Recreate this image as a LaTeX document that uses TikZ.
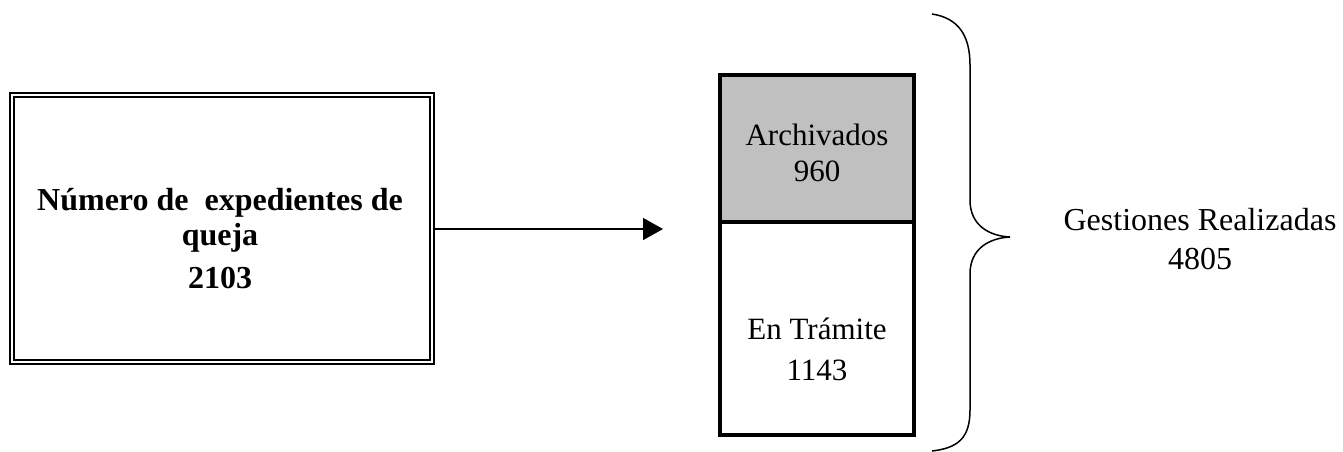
\documentclass[tikz,border=0pt]{standalone}
\usepackage{fontspec}
\setmainfont{Liberation Serif}
\usetikzlibrary{arrows.meta}
\definecolor{cellgray}{HTML}{C0C0C0}
\tikzset{
  mainbox/.style={draw=black, line width=1.4pt, double=white, double distance=2.3pt, minimum width=420pt, minimum height=267pt, inner sep=0pt},
  cell/.style={draw=black, line width=4.5pt, minimum width=194pt, inner sep=0pt},
  boldtext/.style={font=\fontsize{32}{35}\selectfont\bfseries, align=center, inner sep=0pt},
  plaintext/.style={font=\fontsize{31}{36}\selectfont, align=center, inner sep=0pt},
  conn/.style={line width=1.5pt, -{Triangle[length=20pt,width=22pt]}},
  bracestyle/.style={line width=1.5pt}
}
\begin{document}
\begin{tikzpicture}[x=1pt,y=-1pt]
\useasboundingbox (0,0) rectangle (1343,451);
% left box
\node[mainbox] (q) at (222,228.5) {};
\node[boldtext] (qt) at (220,239) {Número de \ expedientes de\\ queja\\[8pt] 2103};
% right cells
\node[cell, fill=cellgray, minimum height=147pt] (arch) at (817,148.5) {};
\node[cell, fill=white, minimum height=213pt] (tram) at (817,328.5) {};
\node[plaintext] (archt) at (817,153) {Archivados\\960};
\node[plaintext, font=\fontsize{31}{41}\selectfont] (tramt) at (817,349) {En Trámite\\1143};
% arrow
\coordinate (tip) at (663,229);
\draw[conn] (q.east |- tip) -- (tip);
% brace
\coordinate (btop) at (932,14);
\coordinate (bmid) at (1010,237);
\coordinate (bbot) at (932,451);
\draw[bracestyle] (btop) .. controls (958,18) and (970,35) .. (970,65)
  -- (970,200) .. controls (970,226) and (990,236) .. (bmid)
  .. controls (990,238) and (970,248) .. (970,274)
  -- (970,410) .. controls (970,438) and (958,448) .. (bbot);
% label
\node[plaintext, font=\fontsize{32}{39}\selectfont] (gest) at (1200,239) {Gestiones Realizadas\\4805};
\end{tikzpicture}
\end{document}
